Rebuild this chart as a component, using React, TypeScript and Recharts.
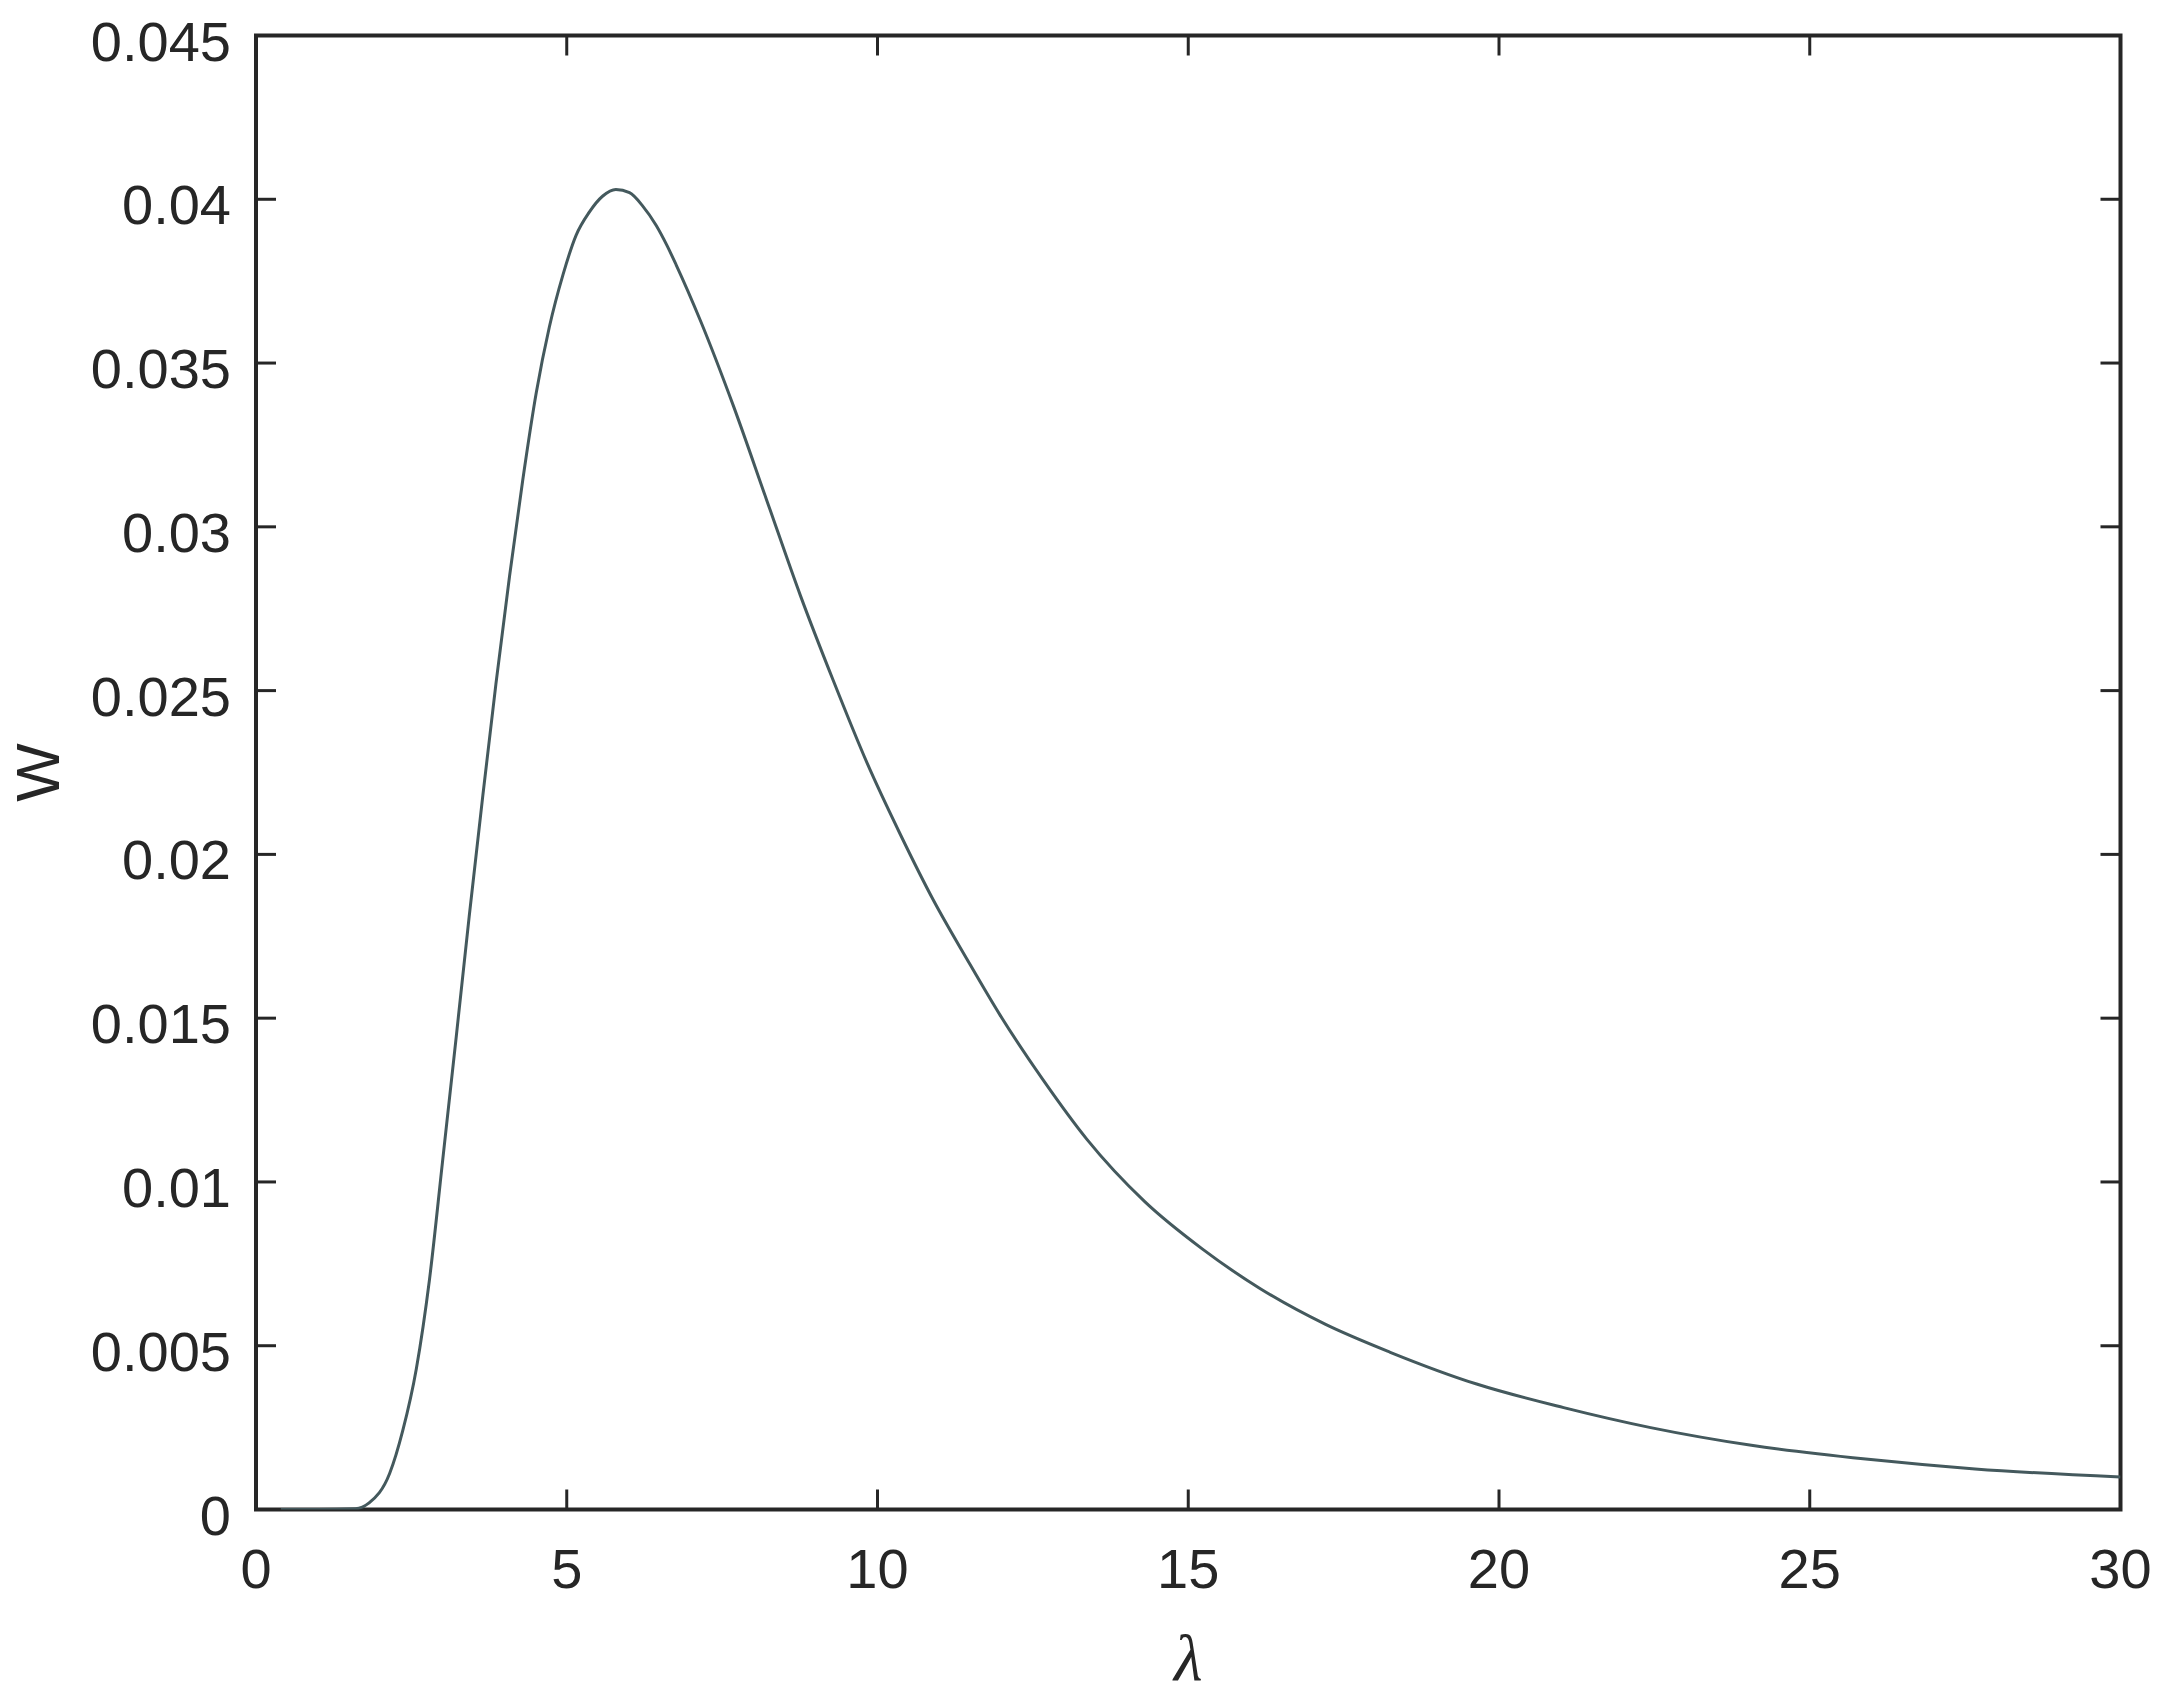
import React from 'react';
import { LineChart, Line, XAxis, YAxis, ReferenceArea } from 'recharts';

// ---- data ----
const LAMBDA = [
  0.4, 1.0, 1.6, 1.82, 2.15, 2.36, 2.58, 2.79, 3.0, 3.22, 3.43, 3.65, 3.86, 4.08, 4.29, 4.51,
  4.72, 4.94, 5.15, 5.36, 5.58, 5.79, 6.01, 6.22, 6.44, 6.61, 6.76, 7.15, 7.68, 8.22, 8.76,
  9.29, 9.83, 10.37, 10.9, 11.44, 11.97, 12.67, 13.37, 14.3, 15.23, 16.16, 17.21, 18.25,
  19.64, 21.04, 22.44, 24.06, 25.9, 27.66, 30,
];
const W_VALUES = [
  0, 0, 0.00002, 0.0002, 0.0011, 0.0024, 0.0043, 0.007, 0.0106, 0.0144, 0.0181, 0.0218, 0.0252,
  0.0285, 0.0314, 0.0341, 0.0361, 0.0377, 0.0389, 0.0396, 0.0401, 0.0403, 0.0402, 0.0398,
  0.0392, 0.0386, 0.038, 0.0363, 0.0337, 0.0308, 0.0279, 0.0253, 0.0228, 0.0206, 0.0186,
  0.0168, 0.0151, 0.0131, 0.0113, 0.0094, 0.00795, 0.00674, 0.00565, 0.0048, 0.00383, 0.00311,
  0.0025, 0.00196, 0.00154, 0.00124, 0.00099,
];
const X_TICKS = [0, 5, 10, 15, 20, 25, 30];
const X_TICK_LABELS = ['0', '5', '10', '15', '20', '25', '30'];
const Y_TICKS = [0, 0.005, 0.01, 0.015, 0.02, 0.025, 0.03, 0.035, 0.04, 0.045];
const Y_TICK_LABELS = ['0', '0.005', '0.01', '0.015', '0.02', '0.025', '0.03', '0.035', '0.04', '0.045'];
const X_TITLE = 'λ';
const Y_TITLE = 'W';

const data = LAMBDA.map((x, i) => ({ x, w: W_VALUES[i] }));

// ---- layout / style ----
const WIDTH = 2163;
const HEIGHT = 1695;
const PLOT_TOP = 35.5;
const PLOT_RIGHT = 2120.5;
const Y_AXIS_W = 256;
const X_AXIS_H = 185.5;
const TICK_LEN = 20;
const X_TICK_MARGIN = 39;
const Y_TICK_MARGIN = 25;
const INK = '#262626';
const FONT = '"Liberation Sans", Arial, Helvetica, sans-serif';
const FS = 56;

const XTick = (props: any) => {
  const { x, y, payload, index } = props;
  const axisY = y - X_TICK_MARGIN;
  const i = X_TICKS.indexOf(payload.value);
  return (
    <g>
      <line x1={x} x2={x} y1={axisY} y2={axisY - TICK_LEN} stroke={INK} strokeWidth={3} />
      <line x1={x} x2={x} y1={PLOT_TOP} y2={PLOT_TOP + TICK_LEN} stroke={INK} strokeWidth={3} />
      <text x={x} y={axisY + 78.5} textAnchor="middle" fill={INK} fontFamily={FONT} fontSize={FS}>
        {i >= 0 ? X_TICK_LABELS[i] : X_TICK_LABELS[index]}
      </text>
    </g>
  );
};

const YTick = (props: any) => {
  const { x, y, payload, index } = props;
  const axisX = x + Y_TICK_MARGIN;
  const i = Y_TICKS.indexOf(payload.value);
  return (
    <g>
      <line x1={axisX} x2={axisX + TICK_LEN} y1={y} y2={y} stroke={INK} strokeWidth={3} />
      <line x1={PLOT_RIGHT - TICK_LEN} x2={PLOT_RIGHT} y1={y} y2={y} stroke={INK} strokeWidth={3} />
      <text x={x} y={y + 25} textAnchor="end" fill={INK} fontFamily={FONT} fontSize={FS}>
        {i >= 0 ? Y_TICK_LABELS[i] : Y_TICK_LABELS[index]}
      </text>
    </g>
  );
};

const XTitle = (props: any) => {
  const vb = props.viewBox || {};
  const cx = (vb.x ?? 0) + (vb.width ?? 0) / 2;
  const top = vb.y ?? 0;
  return (
    <text
      x={cx}
      y={top + 170}
      textAnchor="middle"
      fill={INK}
      fontFamily='"Liberation Serif", "Times New Roman", serif'
      fontStyle="italic"
      fontSize={66}
    >
      {X_TITLE}
    </text>
  );
};

const YTitle = (props: any) => {
  const vb = props.viewBox || {};
  const cy = (vb.y ?? 0) + (vb.height ?? 0) / 2;
  const x = (vb.x ?? 0) + 37.5;
  return (
    <text
      x={x}
      y={cy}
      transform={`rotate(-90, ${x}, ${cy})`}
      textAnchor="middle"
      dominantBaseline="central"
      fill={INK}
      fontFamily={FONT}
      fontSize={62}
    >
      {Y_TITLE}
    </text>
  );
};

export default function App() {
  return (
    <div style={{ position: 'absolute', left: 0, top: 0, width: WIDTH, height: HEIGHT, background: '#fff' }}>
      <LineChart
        width={WIDTH}
        height={HEIGHT}
        data={data}
        margin={{ top: PLOT_TOP, right: WIDTH - PLOT_RIGHT, bottom: 0, left: 0 }}
      >
        <XAxis
          dataKey="x"
          type="number"
          domain={[0, 30]}
          ticks={X_TICKS}
          interval={0}
          allowDataOverflow
          height={X_AXIS_H}
          axisLine={false}
          tickLine={false}
          tickSize={0}
          tickMargin={X_TICK_MARGIN}
          tick={<XTick />}
          label={<XTitle />}
        />
        <YAxis
          type="number"
          domain={[0, 0.045]}
          ticks={Y_TICKS}
          interval={0}
          allowDataOverflow
          width={Y_AXIS_W}
          axisLine={false}
          tickLine={false}
          tickSize={0}
          tickMargin={Y_TICK_MARGIN}
          tick={<YTick />}
          label={<YTitle />}
        />
        <ReferenceArea
          x1={0}
          x2={30}
          y1={0}
          y2={0.045}
          fill="none"
          fillOpacity={0}
          stroke={INK}
          strokeWidth={4}
          strokeOpacity={1}
          ifOverflow="visible"
        />
        <Line
          type="monotone"
          dataKey="w"
          stroke="#44595d"
          strokeWidth={3}
          dot={false}
          activeDot={false}
          isAnimationActive={false}
        />
      </LineChart>
    </div>
  );
}
